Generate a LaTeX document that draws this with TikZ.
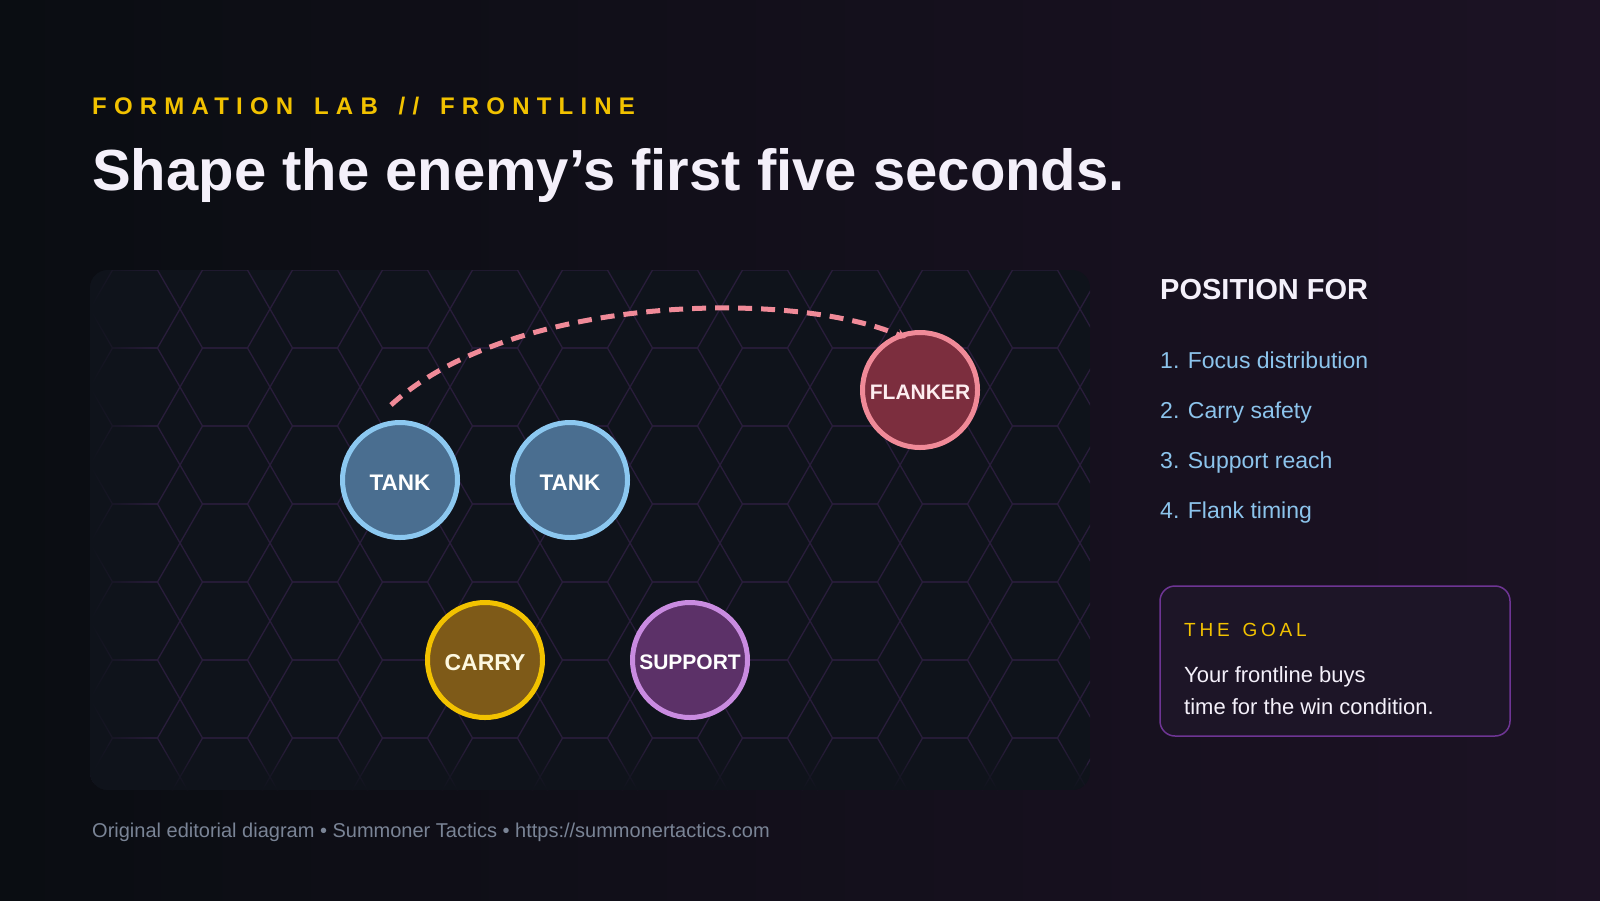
\documentclass[tikz,border=0pt]{standalone}
\usepackage{fontspec}
\setmainfont{Liberation Sans}
\newfontfamily\spacedfont{Liberation Sans}[LetterSpace=30, WordSpace=1.5]
\newfontfamily\goalfont{Liberation Sans}[LetterSpace=20, WordSpace=1.4]
\usetikzlibrary{arrows.meta,fadings}

\definecolor{bgleft}{HTML}{0A0D12}
\definecolor{bgright}{HTML}{1C1224}
\definecolor{panelfill}{HTML}{0F131B}
\definecolor{hexline}{HTML}{291D3B}
\definecolor{kickeryellow}{HTML}{F2C200}
\definecolor{titlewhite}{HTML}{F4F0FA}
\definecolor{itemblue}{HTML}{8CC4EC}
\definecolor{footgray}{HTML}{7A8496}
\definecolor{goalfill}{HTML}{1D1527}
\definecolor{goalring}{HTML}{6E3594}
\definecolor{tankfill}{HTML}{4A6E90}
\definecolor{tankring}{HTML}{8CC8F0}
\definecolor{flankfill}{HTML}{7C2E3E}
\definecolor{flankring}{HTML}{F08A98}
\definecolor{carryfill}{HTML}{7E5A18}
\definecolor{carryring}{HTML}{F2C200}
\definecolor{supfill}{HTML}{5C3168}
\definecolor{supring}{HTML}{C98BE0}

\begin{document}
\begin{tikzpicture}[x=1pt, y=-1pt,
    unit/.style={circle, line width=5pt, minimum size=115pt, inner sep=0pt, text=white,
      text height=20pt, text depth=0pt, font=\fontsize{22.5}{24}\selectfont\bfseries},
    tank/.style={unit, draw=tankring, fill=tankfill},
    flank/.style={unit, draw=flankring, fill=flankfill, text=flankring!15!white,
      text height=19pt, font=\fontsize{21}{22}\selectfont\bfseries},
    carry/.style={unit, draw=carryring, fill=carryfill, text=carryring!12!white,
      font=\fontsize{23}{24}\selectfont\bfseries},
    sup/.style={unit, draw=supring, fill=supfill, text height=19pt,
      font=\fontsize{21}{22}\selectfont\bfseries},
    hexcell/.style={draw=hexline, line width=1.3pt},
    item/.style={anchor=base west, inner sep=0pt, text=itemblue, font=\fontsize{23}{26}\selectfont},
    flankpath/.style={draw=flankring, line width=5pt, dash pattern=on 14pt off 9pt,
      shorten >=-9pt, -{Stealth[length=9pt,width=11pt]}}]

    \useasboundingbox (0,0) rectangle (1600,900);
    \shade[left color=bgleft, right color=bgright] (0,0) rectangle (1600,900);

    % heading
    \node[anchor=base west, inner sep=0pt, text=kickeryellow, font=\fontsize{24}{26}\selectfont\spacedfont\bfseries] (kicker) at (92,114) {FORMATION LAB // FRONTLINE};
    \node[anchor=base west, inner sep=0pt, text=titlewhite, font=\fontsize{58}{62}\selectfont\bfseries] (title) at (92,190) {Shape the enemy’s first five seconds.};

    % board
    \begin{scope}
        \clip[rounded corners=18pt] (90,270) rectangle (1090,790);
        \fill[panelfill] (90,270) rectangle (1090,790);
        \foreach \col in {0,...,11}
            \foreach \row in {0,...,6}
                \draw[hexcell] ({90+90*\col},{309+78*\row}) -- ++(22.5,-39) -- ++(45,0) -- ++(22.5,39) -- ++(-22.5,39) -- ++(-45,0) -- cycle;
        % soft edges of the board
        \fill[panelfill, path fading=east] (90,270) rectangle (150,790);
        \fill[panelfill, path fading=north] (90,745) rectangle (1090,790);
    \end{scope}

    \node[tank] (tankA) at (400,480) {TANK};
    \node[tank] (tankB) at (570,480) {TANK};
    \node[flank] (flanker) at (920,390) {FLANKER};
    \node[carry] (carry) at (485,660) {CARRY};
    \node[sup] (support) at (690,660) {SUPPORT};

    \coordinate (arcstart) at (391,405);
    \draw[flankpath] (arcstart) .. controls (510,296) and (790,288) .. (flanker.112);

    % side panel
    \node[anchor=base west, inner sep=0pt, text=titlewhite, font=\fontsize{29}{31}\selectfont\bfseries] (posfor) at (1160,299) {POSITION FOR};
    \foreach \txt [count=\i] in {Focus distribution, Carry safety, Support reach, Flank timing}
        \node[item] (item\i) at (1160,{318+50*\i}) {\i. \txt};

    \draw[goalring, fill=goalfill, line width=1.5pt, rounded corners=15pt] (1160,586) rectangle (1510,736);
    \node[anchor=base west, inner sep=0pt, text=kickeryellow, font=\fontsize{19}{22}\selectfont\goalfont] (goal) at (1184,636) {THE GOAL};
    \node[anchor=base west, inner sep=0pt, text=titlewhite, font=\fontsize{22}{26}\selectfont] (goalA) at (1184,682) {Your frontline buys};
    \node[anchor=base west, inner sep=0pt, text=titlewhite, font=\fontsize{22}{26}\selectfont] (goalB) at (1184,714) {time for the win condition.};

    \node[anchor=base west, inner sep=0pt, text=footgray, font=\fontsize{20}{24}\selectfont] (foot) at (92,837) {Original editorial diagram • Summoner Tactics • https://summonertactics.com};
\end{tikzpicture}
\end{document}
